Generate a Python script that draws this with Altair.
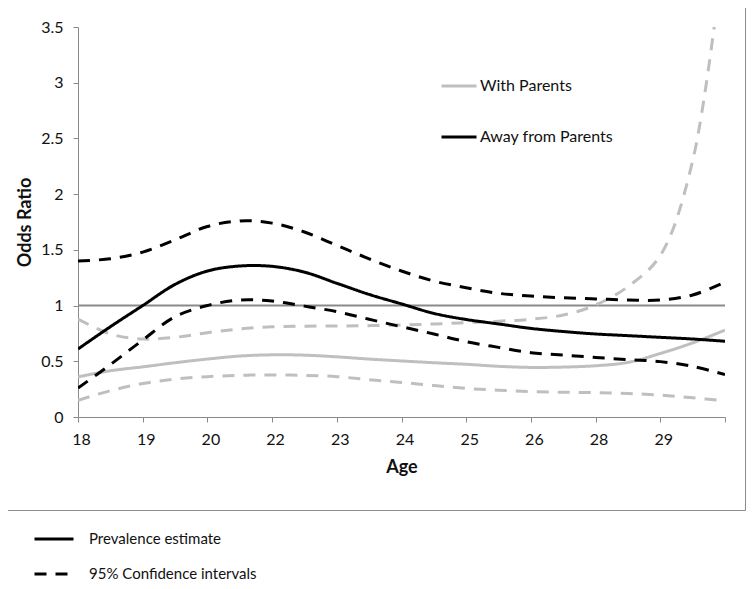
import altair as alt
import pandas as pd

# x positions along the (evenly spaced) age category axis: 0 = "18" ... 10 = end of axis
POSITIONS = [0, 0.5, 1, 1.5, 2, 2.5, 3, 3.5, 4, 4.5, 5, 5.5, 6, 6.5, 7, 7.5, 8, 8.5, 9, 9.5, 10]
AGE_LABELS = ["18", "19", "20", "22", "23", "24", "25", "26", "28", "29", ""]
Y_TICKS = [0, 0.5, 1, 1.5, 2, 2.5, 3, 3.5]
REF_LEVEL = [1.0]

GROUPS = ["With Parents", "Away from Parents"]
KINDS = ["Prevalence estimate", "95% Confidence intervals"]

with_est = [0.36, 0.415, 0.45, 0.487, 0.52, 0.547, 0.558, 0.555, 0.54, 0.52, 0.503,
            0.487, 0.473, 0.455, 0.445, 0.448, 0.46, 0.49, 0.57, 0.665, 0.78]
with_upper = [0.88, 0.745, 0.70, 0.715, 0.757, 0.79, 0.81, 0.815, 0.817, 0.82, 0.826,
              0.835, 0.847, 0.86, 0.877, 0.915, 1.005, 1.17, 1.45, 2.3, 4.3]
with_lower = [0.15, 0.236, 0.30, 0.34, 0.362, 0.374, 0.377, 0.374, 0.362, 0.335, 0.31,
              0.282, 0.257, 0.24, 0.227, 0.222, 0.218, 0.21, 0.197, 0.172, 0.146]
away_est = [0.61, 0.81, 1.00, 1.19, 1.31, 1.355, 1.352, 1.30, 1.20, 1.10, 1.015,
            0.93, 0.875, 0.835, 0.795, 0.767, 0.745, 0.73, 0.715, 0.70, 0.68]
away_upper = [1.40, 1.42, 1.48, 1.59, 1.71, 1.76, 1.74, 1.66, 1.54, 1.42, 1.31,
              1.22, 1.16, 1.11, 1.085, 1.07, 1.06, 1.05, 1.05, 1.095, 1.21]
away_lower = [0.26, 0.47, 0.69, 0.90, 1.00, 1.05, 1.04, 0.995, 0.945, 0.877, 0.81,
              0.745, 0.676, 0.625, 0.577, 0.555, 0.535, 0.515, 0.497, 0.455, 0.38]

series = [
    ("With Parents", "upper", KINDS[1], with_upper),
    ("With Parents", "lower", KINDS[1], with_lower),
    ("With Parents", "est", KINDS[0], with_est),
    ("Away from Parents", "upper", KINDS[1], away_upper),
    ("Away from Parents", "lower", KINDS[1], away_lower),
    ("Away from Parents", "est", KINDS[0], away_est),
]
rows = []
for order, (grp, bound, kind, vals) in enumerate(series):
    for p, v in zip(POSITIONS, vals):
        rows.append({"group": grp, "line": f"{order}-{grp}-{bound}", "kind": kind,
                     "pos": p, "value": v})
df = pd.DataFrame(rows)

label_list = "[" + ",".join(f"'{s}'" for s in AGE_LABELS) + "]"

x_enc = alt.X(
    "pos:Q",
    scale=alt.Scale(domain=[0, 10], nice=False, zero=False),
    axis=alt.Axis(values=list(range(11)), labelExpr=f"{label_list}[datum.value]",
                  title="Age", labelOffset=3),
)
y_enc = alt.Y(
    "value:Q",
    scale=alt.Scale(domain=[0, 3.5], nice=False),
    axis=alt.Axis(values=Y_TICKS, format="~g", title="Odds Ratio"),
)

frame = alt.Chart(pd.DataFrame({"k": [0]})).mark_rect(
    fill="transparent", stroke="#8c8c8c", strokeWidth=1
).encode(
    x=alt.value(-70.5), x2=alt.value(667.5), y=alt.value(-19.5), y2=alt.value(483.5)
)

ref = alt.Chart(pd.DataFrame({"level": REF_LEVEL})).mark_rule(
    color="#8a8a8a", strokeWidth=2
).encode(y=alt.Y("level:Q"))

lines = alt.Chart(df).mark_line(clip=True, interpolate="catmull-rom", strokeWidth=3).encode(
    x=x_enc,
    y=y_enc,
    color=alt.Color(
        "group:N",
        scale=alt.Scale(domain=GROUPS, range=["#bfbfbf", "#000000"]),
        legend=alt.Legend(
            orient="none", legendX=362, legendY=40, title=None,
            symbolType="stroke", symbolSize=1225, symbolStrokeWidth=3,
            labelFontSize=16, labelOffset=2, rowPadding=24, padding=0,
            labelLimit=400,
        ),
    ),
    strokeDash=alt.StrokeDash(
        "kind:N",
        scale=alt.Scale(domain=KINDS, range=[[1, 0], [12, 9]]),
        legend=alt.Legend(
            orient="none", legendX=-45, legendY=491, title=None,
            symbolType="stroke", symbolSize=1521, symbolStrokeWidth=3,
            symbolStrokeColor="black",
            labelFontSize=15, labelOffset=14, rowPadding=6, padding=0,
            labelLimit=400,
        ),
    ),
    detail="line:N",
)

chart = alt.layer(frame, ref, lines).properties(
    width=647, height=390,
    autosize="none",
    padding={"left": 70, "top": 19, "right": 21, "bottom": 165},
).configure(
    font="Lato",
).configure_view(
    stroke=None,
).configure_axis(
    grid=False,
    domainColor="#8a8a8a",
    tickColor="#8a8a8a",
    tickSize=5,
    labelFontSize=16,
    labelColor="#111111",
    titleFontSize=18,
    titleFontWeight="bold",
    titleColor="#111111",
).configure_axisX(
    labelPadding=9,
    titlePadding=11,
    labelAlign="center",
).configure_axisY(
    labelPadding=10,
    titlePadding=6,
).configure_legend(
    labelColor="#111111",
)

chart.save("out.html", embed_options={"renderer": "svg", "actions": False})
